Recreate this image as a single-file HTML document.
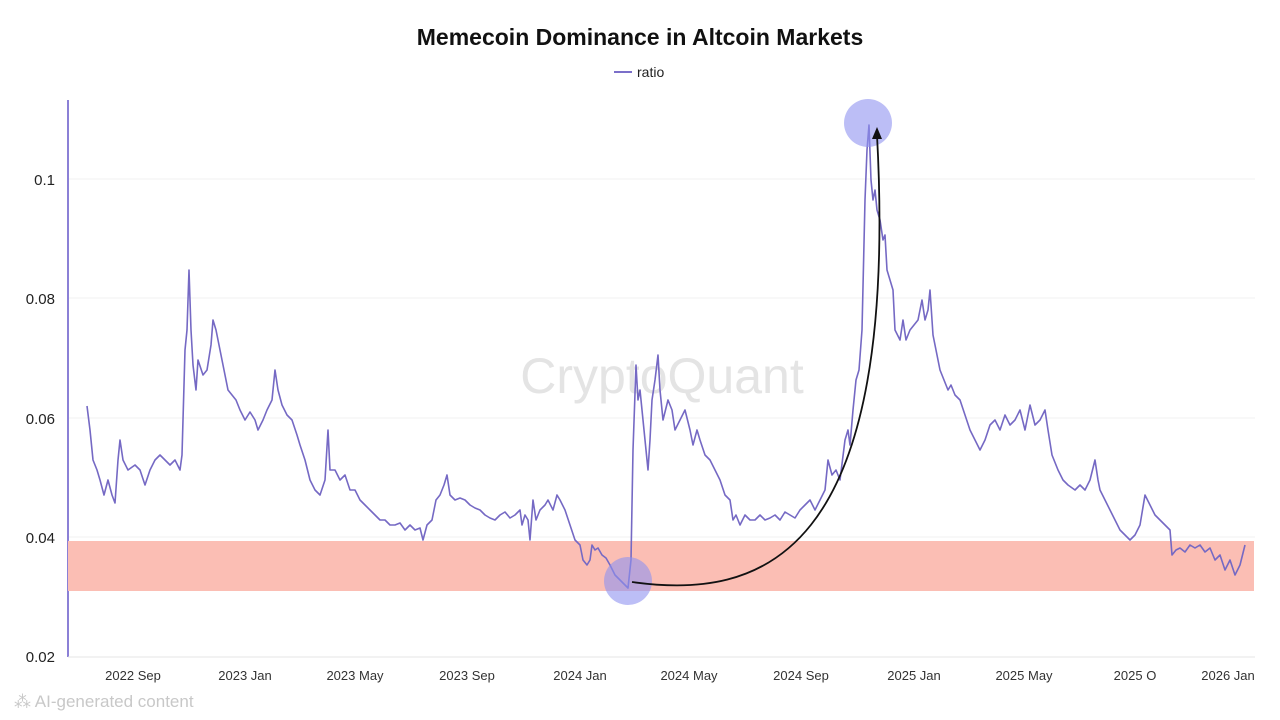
<!DOCTYPE html>
<html><head><meta charset="utf-8"><style>
html,body{margin:0;padding:0;background:#fff;width:1280px;height:720px;overflow:hidden;font-family:"Liberation Sans",sans-serif}
</style></head><body>
<svg width="1280" height="720" viewBox="0 0 1280 720" xmlns="http://www.w3.org/2000/svg" font-family="Liberation Sans, sans-serif">
<text x="640" y="45" text-anchor="middle" font-size="23" font-weight="bold" fill="#111">Memecoin Dominance in Altcoin Markets</text>
<line x1="614" y1="72" x2="632" y2="72" stroke="#7b6fc9" stroke-width="2"/>
<text x="637" y="77" font-size="14" fill="#222">ratio</text>
<g stroke="#f2f2f2" stroke-width="1">
<line x1="68" y1="179" x2="1255" y2="179"/><line x1="68" y1="298" x2="1255" y2="298"/><line x1="68" y1="418" x2="1255" y2="418"/><line x1="68" y1="537" x2="1255" y2="537"/>
</g>
<line x1="68" y1="100" x2="68" y2="657" stroke="#8b80d6" stroke-width="2"/>
<line x1="68" y1="657" x2="1255" y2="657" stroke="#e6e6e6" stroke-width="1"/>
<g font-size="15" fill="#222" text-anchor="end">
<text x="55" y="185">0.1</text><text x="55" y="304">0.08</text><text x="55" y="424">0.06</text><text x="55" y="543">0.04</text><text x="55" y="662">0.02</text>
</g>
<g font-size="13" fill="#333" text-anchor="middle">
<text x="133" y="680">2022 Sep</text><text x="245" y="680">2023 Jan</text><text x="355" y="680">2023 May</text><text x="467" y="680">2023 Sep</text><text x="580" y="680">2024 Jan</text><text x="689" y="680">2024 May</text><text x="801" y="680">2024 Sep</text><text x="914" y="680">2025 Jan</text><text x="1024" y="680">2025 May</text><text x="1135" y="680">2025 O</text><text x="1228" y="680">2026 Jan</text>
</g>
<text x="662" y="393" text-anchor="middle" font-size="50" fill="#e4e4e4">CryptoQuant</text>
<rect x="68" y="541" width="1186" height="50" fill="#fbbeb4"/>
<polyline fill="none" stroke="#7569c4" stroke-width="1.6" stroke-linejoin="round" points="87,406 90,430 93,460 97,470 100,480 104,495 108,480 112,495 115,503 118,460 120,440 123,460 128,470 135,465 140,470 145,485 150,470 155,460 160,455 165,460 170,465 175,460 180,470 182,455 185,350 187,330 189,270 191,330 193,365 196,390 198,360 203,375 207,370 211,345 213,320 216,330 220,350 224,370 228,390 232,395 236,400 240,410 245,420 250,412 255,420 258,430 263,420 267,410 272,400 275,370 278,390 282,405 287,415 292,420 297,435 300,445 305,460 310,480 315,490 320,495 325,480 328,430 330,470 335,470 340,480 345,475 350,490 355,490 360,500 365,505 370,510 375,515 380,520 385,520 390,525 395,525 400,523 405,530 410,525 415,530 420,528 423,540 427,525 432,520 436,500 440,495 444,485 447,475 450,495 455,500 460,498 465,500 470,505 475,508 480,510 485,515 490,518 495,520 500,515 505,512 510,518 515,515 520,510 522,525 525,515 528,520 530,540 533,500 536,520 540,510 545,505 548,500 553,510 557,495 560,500 565,510 570,525 575,540 580,545 583,560 587,565 590,560 592,545 595,550 598,548 602,555 606,558 610,565 615,575 620,580 625,585 628,588 631,560 633,450 636,365 638,400 640,390 643,420 645,440 648,470 650,440 652,400 655,380 658,355 660,390 663,420 668,400 672,410 675,430 680,420 685,410 690,430 693,445 697,430 700,440 705,455 710,460 715,470 720,480 725,495 730,500 733,520 736,515 740,525 745,515 750,520 755,520 760,515 765,520 770,518 775,515 780,520 785,512 790,515 795,518 800,510 805,505 810,500 815,510 820,500 825,490 828,460 832,475 836,470 840,480 845,440 848,430 850,445 853,410 856,380 859,370 862,330 865,200 867,150 869,125 871,180 873,200 875,190 877,210 880,220 883,240 885,235 887,270 890,280 893,290 895,330 900,340 903,320 906,340 910,330 914,325 918,320 922,300 925,320 928,310 930,290 933,335 936,350 940,370 944,380 948,390 951,385 955,395 960,400 965,415 970,430 975,440 980,450 985,440 990,425 995,420 1000,430 1005,415 1010,425 1015,420 1020,410 1025,430 1030,405 1035,425 1040,420 1045,410 1048,430 1052,455 1058,470 1063,480 1068,485 1075,490 1080,485 1085,490 1090,480 1095,460 1098,480 1100,490 1105,500 1110,510 1115,520 1120,530 1125,535 1130,540 1135,535 1140,525 1145,495 1150,505 1155,515 1160,520 1165,525 1170,530 1172,555 1176,550 1180,548 1185,552 1190,545 1195,548 1200,545 1205,552 1210,548 1215,560 1220,555 1225,570 1230,560 1235,575 1240,565 1245,545"/>
<circle cx="628" cy="581" r="24" fill="#8f92f0" fill-opacity="0.6"/>
<circle cx="868" cy="123" r="24" fill="#8f92f0" fill-opacity="0.6"/>
<path d="M632,582 C760,600 900,560 877,135" fill="none" stroke="#111" stroke-width="1.8"/>
<polygon points="877,127 872,139 882,139" fill="#111"/>
<text x="14" y="707" font-size="17" fill="#c8c8c8">⁂ AI-generated content</text>
</svg>
</body></html>
